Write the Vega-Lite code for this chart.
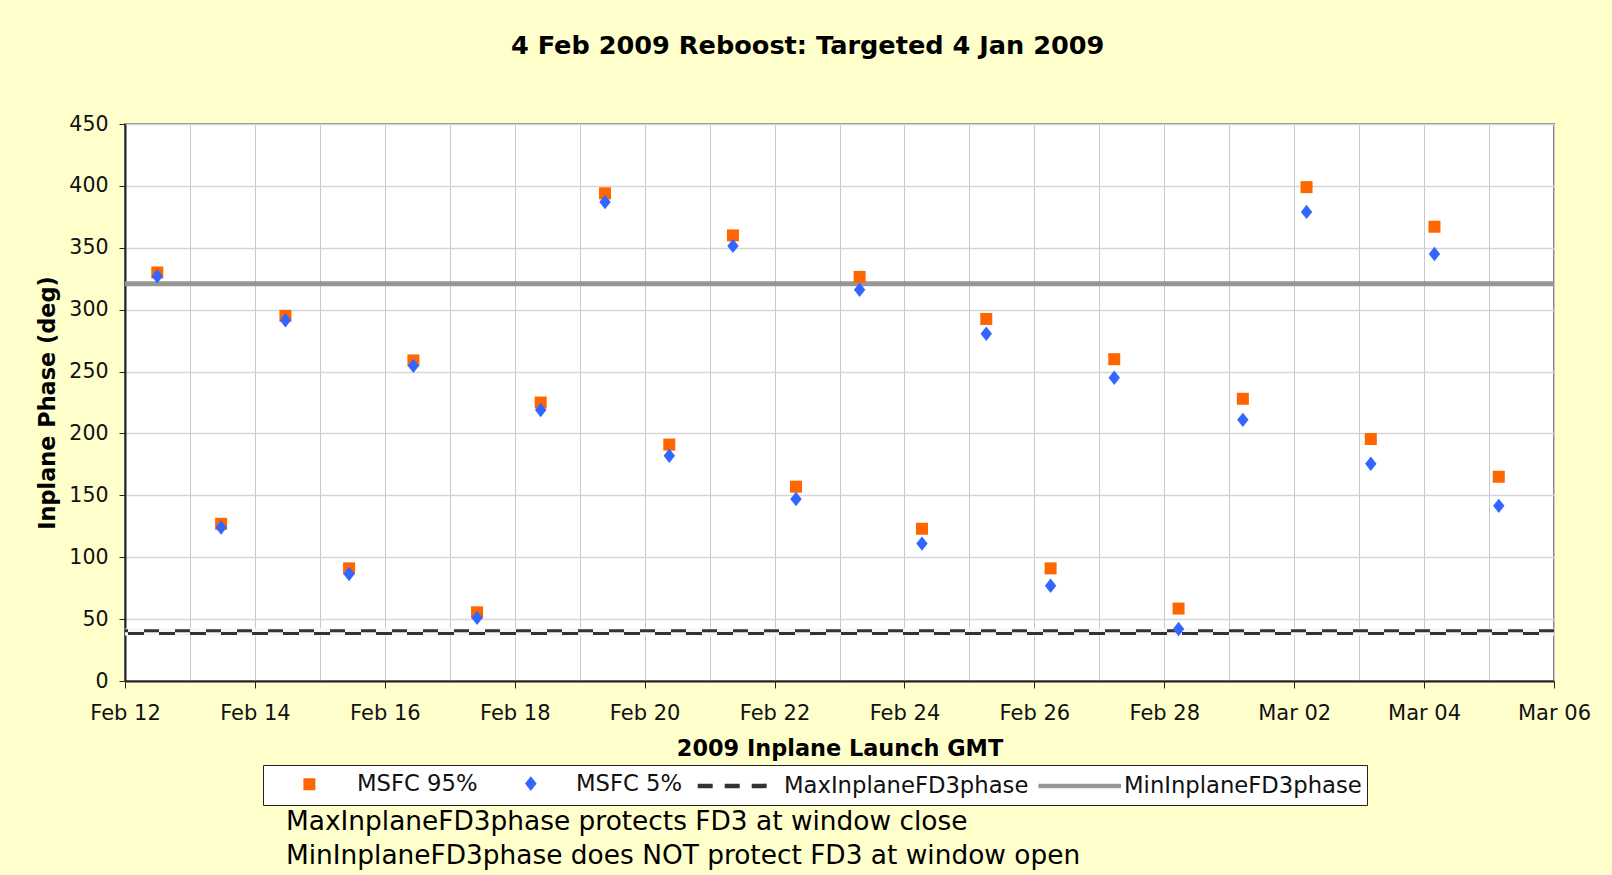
{
  "$schema": "https://vega.github.io/schema/vega-lite/v6.json",
  "background": "#FFFFCC",
  "padding": {"left": 35, "top": 33, "right": 22, "bottom": 7},
  "datasets": {
    "msfc": [
      {"date": "2009-02-12T11:56:00Z", "series": "MSFC 95%", "phase": 330},
      {"date": "2009-02-13T11:31:00Z", "series": "MSFC 95%", "phase": 127},
      {"date": "2009-02-14T11:17:00Z", "series": "MSFC 95%", "phase": 295},
      {"date": "2009-02-15T10:48:00Z", "series": "MSFC 95%", "phase": 91},
      {"date": "2009-02-16T10:34:00Z", "series": "MSFC 95%", "phase": 259},
      {"date": "2009-02-17T10:05:00Z", "series": "MSFC 95%", "phase": 55.5},
      {"date": "2009-02-18T09:36:00Z", "series": "MSFC 95%", "phase": 225},
      {"date": "2009-02-19T09:22:00Z", "series": "MSFC 95%", "phase": 394},
      {"date": "2009-02-20T09:07:00Z", "series": "MSFC 95%", "phase": 191},
      {"date": "2009-02-21T08:38:00Z", "series": "MSFC 95%", "phase": 360},
      {"date": "2009-02-22T07:55:00Z", "series": "MSFC 95%", "phase": 157},
      {"date": "2009-02-23T07:26:00Z", "series": "MSFC 95%", "phase": 326.5},
      {"date": "2009-02-24T06:29:00Z", "series": "MSFC 95%", "phase": 123},
      {"date": "2009-02-25T06:14:00Z", "series": "MSFC 95%", "phase": 292.5},
      {"date": "2009-02-26T06:00:00Z", "series": "MSFC 95%", "phase": 91},
      {"date": "2009-02-27T05:31:00Z", "series": "MSFC 95%", "phase": 260},
      {"date": "2009-02-28T05:17:00Z", "series": "MSFC 95%", "phase": 58.5},
      {"date": "2009-03-01T05:02:00Z", "series": "MSFC 95%", "phase": 228},
      {"date": "2009-03-02T04:34:00Z", "series": "MSFC 95%", "phase": 399},
      {"date": "2009-03-03T04:19:00Z", "series": "MSFC 95%", "phase": 195.5},
      {"date": "2009-03-04T03:50:00Z", "series": "MSFC 95%", "phase": 367},
      {"date": "2009-03-05T03:36:00Z", "series": "MSFC 95%", "phase": 165},
      {"date": "2009-02-12T11:56:00Z", "series": "MSFC 5%", "phase": 327},
      {"date": "2009-02-13T11:31:00Z", "series": "MSFC 5%", "phase": 124},
      {"date": "2009-02-14T11:17:00Z", "series": "MSFC 5%", "phase": 291.5},
      {"date": "2009-02-15T10:48:00Z", "series": "MSFC 5%", "phase": 86.5},
      {"date": "2009-02-16T10:34:00Z", "series": "MSFC 5%", "phase": 254.6},
      {"date": "2009-02-17T10:05:00Z", "series": "MSFC 5%", "phase": 51},
      {"date": "2009-02-18T09:36:00Z", "series": "MSFC 5%", "phase": 219},
      {"date": "2009-02-19T09:22:00Z", "series": "MSFC 5%", "phase": 387},
      {"date": "2009-02-20T09:07:00Z", "series": "MSFC 5%", "phase": 182},
      {"date": "2009-02-21T08:38:00Z", "series": "MSFC 5%", "phase": 351.5},
      {"date": "2009-02-22T07:55:00Z", "series": "MSFC 5%", "phase": 147},
      {"date": "2009-02-23T07:26:00Z", "series": "MSFC 5%", "phase": 316},
      {"date": "2009-02-24T06:29:00Z", "series": "MSFC 5%", "phase": 111},
      {"date": "2009-02-25T06:14:00Z", "series": "MSFC 5%", "phase": 280.5},
      {"date": "2009-02-26T06:00:00Z", "series": "MSFC 5%", "phase": 77},
      {"date": "2009-02-27T05:31:00Z", "series": "MSFC 5%", "phase": 245},
      {"date": "2009-02-28T05:17:00Z", "series": "MSFC 5%", "phase": 42},
      {"date": "2009-03-01T05:02:00Z", "series": "MSFC 5%", "phase": 211},
      {"date": "2009-03-02T04:34:00Z", "series": "MSFC 5%", "phase": 379},
      {"date": "2009-03-03T04:19:00Z", "series": "MSFC 5%", "phase": 175.5},
      {"date": "2009-03-04T03:50:00Z", "series": "MSFC 5%", "phase": 345},
      {"date": "2009-03-05T03:36:00Z", "series": "MSFC 5%", "phase": 141.5}
    ]
  },
  "title": {
    "text": ["MaxInplaneFD3phase protects FD3 at window close", "MinInplaneFD3phase does NOT protect FD3 at window open"],
    "orient": "bottom",
    "anchor": "start",
    "frame": "group",
    "font": "DejaVu Sans",
    "fontSize": 26.4,
    "fontWeight": "normal",
    "color": "black",
    "lineHeight": 34,
    "offset": 3,
    "dx": 161
  },
  "vconcat": [
    {
      "title": {
        "text": "4 Feb 2009 Reboost: Targeted 4 Jan 2009",
        "anchor": "middle",
        "frame": "bounds",
        "offset": 54,
        "dx": -6,
        "font": "DejaVu Sans",
        "fontSize": 25.6,
        "fontWeight": "bold",
        "color": "black"
      },
      "width": 1429,
      "height": 557,
      "encoding": {
        "y": {
          "field": "phase",
          "type": "quantitative",
          "title": "Inplane Phase (deg)",
          "scale": {"domain": [0, 450], "nice": false, "zero": true},
          "axis": {
            "values": [0, 50, 100, 150, 200, 250, 300, 350, 400, 450],
            "grid": true,
            "gridColor": "#d6d6d6",
            "gridWidth": 1.5,
            "domainColor": "#222222",
            "domainWidth": 2,
            "tickColor": "#222222",
            "tickSize": 6,
            "labelPadding": 11,
            "labelFont": "DejaVu Sans",
            "labelFontSize": 20.5,
            "labelColor": "#111111",
            "titleFont": "DejaVu Sans",
            "titleFontSize": 22.4,
            "titleFontWeight": "bold",
            "titleColor": "black",
            "titlePadding": 9
          }
        }
      },
      "layer": [
        {
          "data": {"values": [{"series": "MinInplaneFD3phase", "phase": 321}]},
          "mark": {"type": "rule", "color": "#969696", "strokeWidth": 5}
        },
        {
          "data": {"values": [{"series": "MaxInplaneFD3phase", "phase": 39.5}]},
          "mark": {"type": "rule", "color": "#f6f6f6", "strokeWidth": 7}
        },
        {
          "data": {"values": [{"series": "MaxInplaneFD3phase", "phase": 40.55}]},
          "mark": {"type": "rule", "color": "#333333", "strokeWidth": 3, "strokeDash": [15, 16]}
        },
        {
          "data": {"values": [{"series": "MaxInplaneFD3phase", "phase": 38.45}]},
          "mark": {"type": "rule", "color": "#333333", "strokeWidth": 3, "strokeDash": [16, 15], "strokeDashOffset": 16}
        },
        {
          "data": {"values": []},
          "mark": {"type": "point", "filled": true, "opacity": 1, "strokeWidth": 4.5},
          "encoding": {
            "color": {
              "field": "series",
              "type": "nominal",
              "title": null,
              "scale": {
                "domain": ["MSFC 95%", "MSFC 5%", "MaxInplaneFD3phase", "MinInplaneFD3phase"],
                "range": ["#FF6600", "#3366FF", "#333333", "#969696"]
              }
            },
            "stroke": {
              "field": "series",
              "type": "nominal",
              "title": null,
              "scale": {
                "domain": ["MSFC 95%", "MSFC 5%", "MaxInplaneFD3phase", "MinInplaneFD3phase"],
                "range": ["transparent", "transparent", "#333333", "#969696"]
              }
            },
            "shape": {
              "field": "series",
              "type": "nominal",
              "title": null,
              "scale": {
                "domain": ["MSFC 95%", "MSFC 5%", "MaxInplaneFD3phase", "MinInplaneFD3phase"],
                "range": [
                  "M1.991,-0.545H3.081V0.545H1.991Z",
                  "M-1.2,0M2.755,-0.673L3.282,0L2.755,0.673L2.228,0Z",
                  "M-1.482,0M-0.982,0H5.291",
                  "M-0.909,0H6.591"
                ]
              }
            },
            "strokeDash": {
              "field": "series",
              "type": "nominal",
              "title": null,
              "scale": {
                "domain": ["MSFC 95%", "MSFC 5%", "MaxInplaneFD3phase", "MinInplaneFD3phase"],
                "range": [[1, 0], [1, 0], [15, 12], [1, 0]]
              }
            }
          }
        },
        {
          "data": {"name": "msfc"},
          "transform": [{"filter": "datum.series == 'MSFC 95%'"}],
          "mark": {"type": "point", "filled": true, "opacity": 1, "shape": "square", "size": 144, "color": "#FF6600", "strokeWidth": 0},
          "encoding": {
            "x": {
              "field": "date",
              "type": "temporal",
              "title": "2009 Inplane Launch GMT",
              "scale": {
                "type": "utc",
                "nice": false,
                "domain": [
                  {"year": 2009, "month": "feb", "date": 12, "utc": true},
                  {"year": 2009, "month": "mar", "date": 6, "utc": true}
                ]
              },
              "axis": {
                "tickCount": {"interval": "day", "step": 1},
                "labelExpr": "round((datum.value - utc(2009, 1, 12)) / 86400000) % 2 == 0 ? utcFormat(datum.value, '%b %d') : ''",
                "labelOverlap": false,
                "labelFlush": false,
                "grid": true,
                "gridColor": "#c8c8c8",
                "gridWidth": 1,
                "domainColor": "#222222",
                "domainWidth": 2,
                "tickColor": "#222222",
                "tickSize": 7,
                "tickOpacity": {"condition": {"test": "round((datum.value - utc(2009, 1, 12)) / 86400000) % 2 == 0", "value": 1}, "value": 0},
                "labelPadding": 14,
                "labelFont": "DejaVu Sans",
                "labelFontSize": 21,
                "labelColor": "#111111",
                "titleFont": "DejaVu Sans",
                "titleFontSize": 22.4,
                "titleFontWeight": "bold",
                "titleColor": "black",
                "titlePadding": 14
              }
            }
          }
        },
        {
          "data": {"name": "msfc"},
          "transform": [{"filter": "datum.series == 'MSFC 5%'"}],
          "mark": {"type": "point", "filled": true, "opacity": 1, "shape": "M0,-1.2L0.95,0L0,1.2L-0.95,0Z", "size": 144, "color": "#3366FF", "strokeWidth": 0},
          "encoding": {
            "x": {"field": "date", "type": "temporal"}
          }
        }
      ]
    }
  ],
  "config": {
    "view": {"fill": "white", "stroke": "#888888", "strokeWidth": 2},
    "font": "DejaVu Sans",
    "legend": {
      "orient": "none",
      "legendX": 138,
      "legendY": 641,
      "direction": "horizontal",
      "columns": 4,
      "padding": 5,
      "fillColor": "white",
      "strokeColor": "#222222",
      "labelFont": "DejaVu Sans",
      "labelFontSize": 22.7,
      "labelColor": "#111111",
      "labelLimit": 400,
      "labelOffset": 62,
      "columnPadding": 0,
      "symbolSize": 484,
      "symbolStrokeWidth": 4.5
    }
  }
}
